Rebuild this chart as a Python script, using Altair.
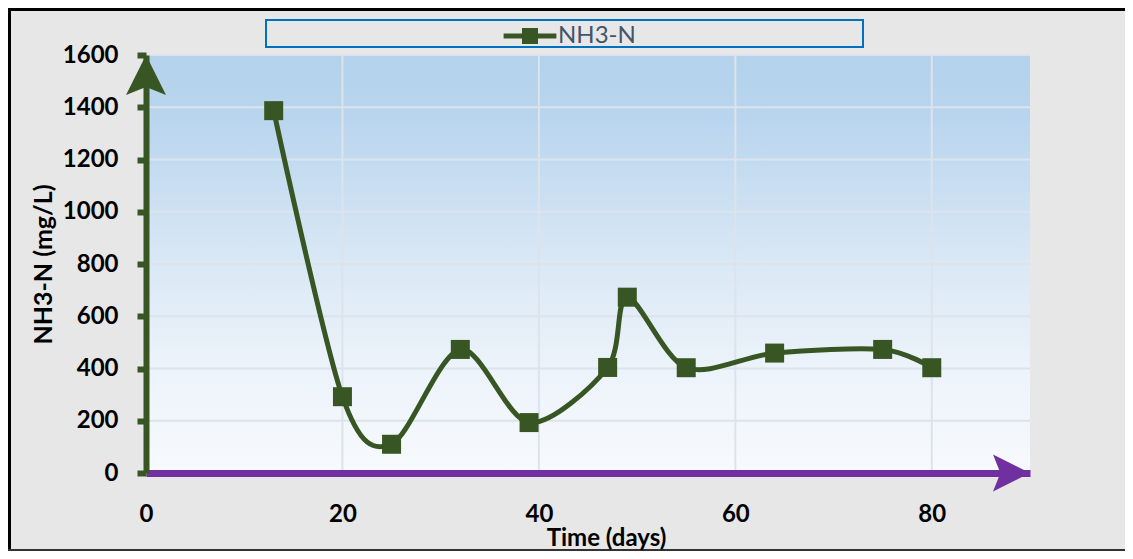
import altair as alt
import pandas as pd

# ---- data ----
days = [13, 20, 25, 32, 39, 47, 49, 55, 64, 75, 80]
nh3n = [1387, 292, 110, 473, 193, 404, 673, 403, 459, 473, 403]
series_name = "NH3-N"
x_ticks = [0, 20, 40, 60, 80]
y_ticks = [0, 200, 400, 600, 800, 1000, 1200, 1400, 1600]
x_max = 90
y_max = 1600

GREEN = "#375623"
PURPLE = "#7030a0"
GRID = "#dde3ea"
BG = "#e7e7e7"
FONT = "Lato"

W, H = 884, 418
PAD = {"left": 138, "top": 47, "right": 95, "bottom": 78}

df = pd.DataFrame({"x": days, "y": nh3n, "series": series_name})
one = pd.DataFrame({"x": [0], "x2": [x_max], "y": [0], "y2": [y_max]})

xs = alt.Scale(domain=[0, x_max], nice=False, zero=False)
ys = alt.Scale(domain=[0, y_max], nice=False)

x_axis = alt.Axis(
    values=x_ticks, format="d", grid=False, ticks=False, tickSize=0,
    domainColor=PURPLE, domainWidth=7, labelFlush=False,
    labelFont=FONT, labelFontSize=24, labelFontWeight="bold", labelColor="black",
    labelPadding=29,
    title="Time (days)", titleFont=FONT, titleFontSize=24, titleFontWeight="bold",
    titleColor="black", titleX=460, titleY=72, titleBaseline="alphabetic",
    zindex=1,
)
y_axis = alt.Axis(
    values=y_ticks, format="d", grid=False, ticks=True, tickColor=GREEN, tickSize=9, tickWidth=6,
    domainColor=GREEN, domainWidth=6, labelFlush=False,
    labelFont=FONT, labelFontSize=24, labelFontWeight="bold", labelColor="black",
    labelPadding=19,
    title="NH3-N (mg/L)", titleFont=FONT, titleFontSize=25, titleFontWeight="bold",
    titleColor="black", titleX=-95, titleY=209, titleBaseline="alphabetic",
    zindex=1,
)


def X(field="x"):
    return alt.X(f"{field}:Q", scale=xs, axis=x_axis)


def Y(field="y"):
    return alt.Y(f"{field}:Q", scale=ys, axis=y_axis)


grad = alt.Gradient(
    gradient="linear", x1=0, y1=0, x2=0, y2=1,
    stops=[
        alt.GradientStop(color="#b4d2ec", offset=0),
        alt.GradientStop(color="#b9d5ee", offset=0.15),
        alt.GradientStop(color="#dae8f5", offset=0.5),
        alt.GradientStop(color="#ecf3fa", offset=0.75),
        alt.GradientStop(color="#f7fafd", offset=1),
    ],
)

bg = alt.Chart(one).mark_rect(fill=grad).encode(
    x=X(), x2="x2:Q", y=Y(), y2="y2:Q",
)

grid_x = alt.Chart(pd.DataFrame({"x": x_ticks})).mark_rule(color=GRID, strokeWidth=2).encode(
    x=X()
)
grid_y = alt.Chart(pd.DataFrame({"y": y_ticks})).mark_rule(color=GRID, strokeWidth=2).encode(
    y=Y()
)

line = alt.Chart(df).mark_line(
    interpolate="cardinal", tension=0.1, color=GREEN, strokeWidth=5
).encode(x=X(), y=Y())

points = alt.Chart(df).mark_point(
    shape="square", filled=True, size=361, opacity=1
).encode(
    x=X(),
    y=Y(),
    color=alt.Color(
        "series:N",
        scale=alt.Scale(range=[GREEN]),
        legend=alt.Legend(
            title=None, orient="none", legendX=372, legendY=-31, padding=0,
            symbolType="M-3.3,-0.3H3.3V0.3H-3.3ZM-1,-1H1V1H-1Z",
            symbolSize=256, symbolStrokeWidth=0, symbolOpacity=1,
            labelFont=FONT, labelFontSize=24, labelColor="#44546a", labelOffset=16,
        ),
    ),
)

arrow_y = alt.Chart(pd.DataFrame({"x": [0], "y": [y_max]})).mark_point(
    shape="M0,0L1,2L0,1.6L-1,2Z", size=1600, filled=True, opacity=1, color=GREEN
).encode(x=X(), y=Y())

arrow_x = alt.Chart(pd.DataFrame({"x": [x_max], "y": [0]})).mark_point(
    shape="M0,0L-2,-1L-1.6,0L-2,1Z", size=1369, filled=True, opacity=1, color=PURPLE
).encode(x=X(), y=Y())

# decorative frame and legend box
deco = pd.DataFrame({"k": [0]})
legend_box = alt.Chart(deco).mark_rect(fill=BG, stroke="#0070c0", strokeWidth=2).encode(
    x=alt.value(120), x2=alt.value(717), y=alt.value(-35), y2=alt.value(-8)
)
border_left = alt.Chart(deco).mark_rect(fill="black").encode(
    x=alt.value(-138), x2=alt.value(-135), y=alt.value(-47), y2=alt.value(496)
)
border_top = alt.Chart(deco).mark_rect(fill="black").encode(
    x=alt.value(-138), x2=alt.value(979), y=alt.value(-47), y2=alt.value(-44)
)
border_bottom = alt.Chart(deco).mark_rect(fill="#333333").encode(
    x=alt.value(-138), x2=alt.value(979), y=alt.value(494), y2=alt.value(496)
)

chart = alt.layer(
    bg, grid_x, grid_y, legend_box, border_left, border_top, border_bottom,
    line, points, arrow_y, arrow_x,
).properties(
    width=W, height=H, padding=PAD,
    autosize=alt.AutoSizeParams(type="none"),
    background=BG,
).configure_view(stroke=None)

chart.save("out.html", embed_options={"renderer": "svg", "actions": False})
